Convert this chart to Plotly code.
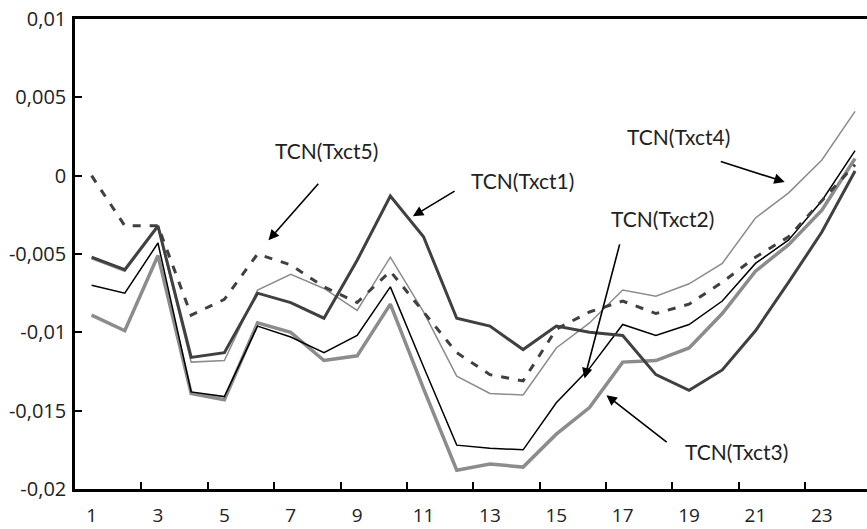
import plotly.graph_objects as go

categories = [str(i) for i in range(1, 25)]

txct1 = [-0.0052, -0.0060, -0.0032, -0.0116, -0.0113, -0.0075, -0.0081, -0.0091, -0.0054, -0.0013,
         -0.0039, -0.0091, -0.0096, -0.0111, -0.0096, -0.0100, -0.0102, -0.0127, -0.0137, -0.0124,
         -0.0099, -0.0068, -0.0036, 0.0003]
txct2 = [-0.0070, -0.0075, -0.0043, -0.0138, -0.0141, -0.0096, -0.0103, -0.0113, -0.0102, -0.0071,
         -0.0122, -0.0172, -0.0174, -0.0175, -0.0145, -0.0123, -0.0095, -0.0102, -0.0095, -0.0080,
         -0.0056, -0.0041, -0.0016, 0.0016]
txct3 = [-0.0089, -0.0099, -0.0051, -0.0139, -0.0143, -0.0094, -0.0100, -0.0118, -0.0115, -0.0082,
         -0.0136, -0.0188, -0.0184, -0.0186, -0.0165, -0.0148, -0.0119, -0.0118, -0.0110, -0.0088,
         -0.0061, -0.0044, -0.0022, 0.0011]
txct4 = [-0.0053, -0.0061, -0.0033, -0.0119, -0.0118, -0.0073, -0.0063, -0.0072, -0.0086, -0.0052,
         -0.0087, -0.0128, -0.0139, -0.0140, -0.0110, -0.0094, -0.0073, -0.0077, -0.0069, -0.0056,
         -0.0027, -0.0011, 0.0010, 0.0041]
txct5 = [0.0000, -0.0032, -0.0032, -0.0089, -0.0079, -0.0050, -0.0057, -0.0071, -0.0081, -0.0061,
         -0.0087, -0.0113, -0.0127, -0.0131, -0.0098, -0.0087, -0.0080, -0.0088, -0.0082, -0.0068,
         -0.0052, -0.0039, -0.0016, 0.0007]

y_tickvals = [0.01, 0.005, 0, -0.005, -0.01, -0.015, -0.02]
y_ticktext = ["0,01", "0,005", "0", "-0,005", "-0,01", "-0,015", "-0,02"]

# label text, label position (category index, value), arrow tail, arrow tip
labels = [
    ("TCN(Txct5)", (7.08, 0.00163), (6.87, -0.00042), (5.33, -0.00412)),
    ("TCN(Txct1)", (12.98, -0.00029), (10.98, -0.00093), (9.68, -0.00259)),
    ("TCN(Txct4)", (17.67, 0.00248), (18.91, 0.00093), (20.88, -0.00040)),
    ("TCN(Txct2)", (17.21, -0.00271), (15.92, -0.00429), (14.85, -0.01294)),
    ("TCN(Txct3)", (19.44, -0.01763), (17.37, -0.01709), (15.51, -0.01401)),
]

fig = go.Figure()
fig.add_trace(go.Scatter(x=categories, y=txct3, mode="lines", name="TCN(Txct3)",
                         line=dict(color="#8c8c8c", width=3.5)))
fig.add_trace(go.Scatter(x=categories, y=txct4, mode="lines", name="TCN(Txct4)",
                         line=dict(color="#8c8c8c", width=1.5)))
fig.add_trace(go.Scatter(x=categories, y=txct2, mode="lines", name="TCN(Txct2)",
                         line=dict(color="#000000", width=1.5)))
fig.add_trace(go.Scatter(x=categories, y=txct5, mode="lines", name="TCN(Txct5)",
                         line=dict(color="#404040", width=3, dash="8px,9px")))
fig.add_trace(go.Scatter(x=categories, y=txct1, mode="lines", name="TCN(Txct1)",
                         line=dict(color="#404040", width=3)))

annotations = []
for text, (lx, ly), (tx, ty), (hx, hy) in labels:
    annotations.append(dict(x=lx, y=ly, xref="x", yref="y", text=text, showarrow=False,
                            font=dict(family="Lato", size=21, color="#222222"),
                            xanchor="center", yanchor="middle"))
    annotations.append(dict(x=hx, y=hy, ax=tx, ay=ty, xref="x", yref="y", axref="x", ayref="y",
                            text="", showarrow=True, arrowhead=2, arrowsize=1.3,
                            arrowwidth=1.6, arrowcolor="#000000", standoff=0, startstandoff=0))

fig.update_layout(
    width=867, height=529,
    margin=dict(l=75, r=0, t=19, b=40, autoexpand=False),
    plot_bgcolor="white", paper_bgcolor="white",
    showlegend=False,
    annotations=annotations,
    font=dict(family="Open Sans", size=20, color="#222222"),
)
fig.update_xaxes(
    type="category", range=[-0.5, 23.36],
    tickmode="linear", tick0=0, dtick=2, tickson="boundaries",
    ticks="inside", ticklen=7, tickwidth=2, tickcolor="black",
    showline=True, linecolor="black", linewidth=2.5, mirror=True,
    showgrid=False, zeroline=False, ticklabelstandoff=7, automargin=False,
    tickfont=dict(size=19),
)
fig.update_yaxes(
    range=[-0.02, 0.01], tickvals=y_tickvals, ticktext=y_ticktext,
    ticks="inside", ticklen=7, tickwidth=2, tickcolor="black",
    showline=True, linecolor="black", linewidth=2.5,
    showgrid=False, zeroline=False, ticklabelstandoff=2, automargin=False,
)

fig.write_html("out.html")
